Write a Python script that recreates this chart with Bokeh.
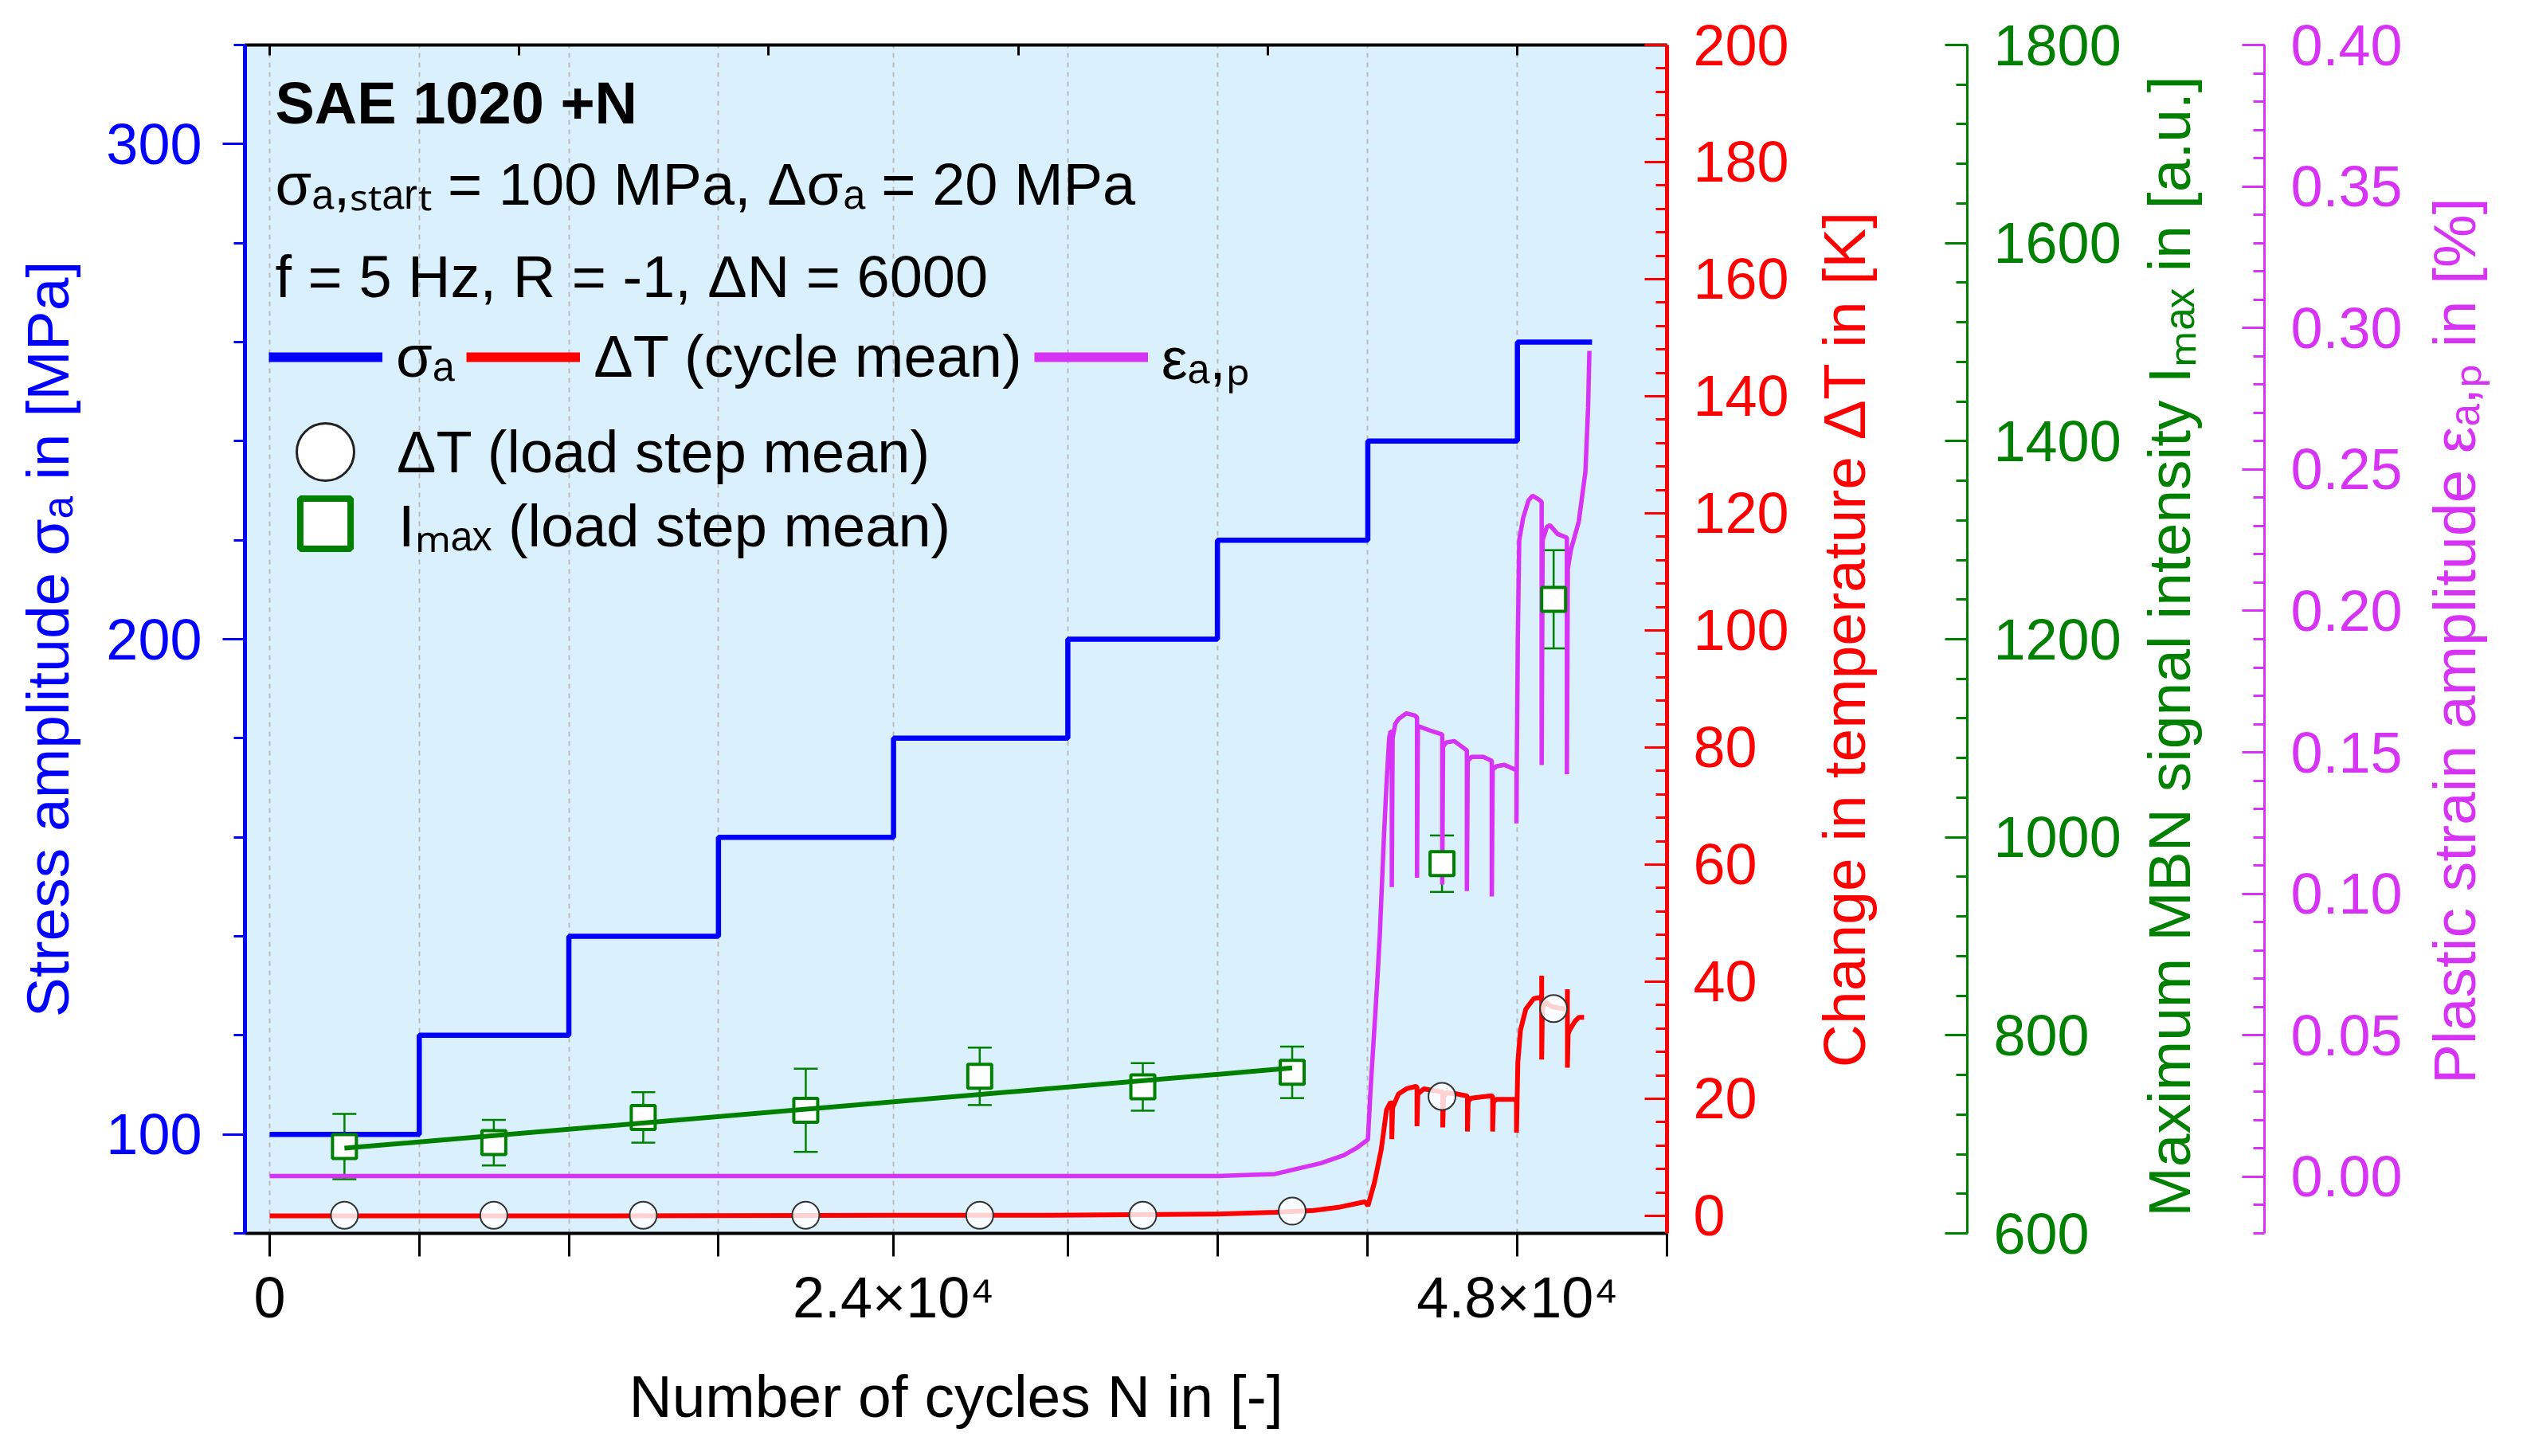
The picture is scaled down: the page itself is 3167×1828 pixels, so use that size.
import math
from bokeh.plotting import figure
from bokeh.models import (Range1d, LinearAxis, FixedTicker, SingleIntervalTicker, Legend, LegendItem,
                          Label, Whisker, ColumnDataSource, PrintfTickFormatter, TeeHead)
from bokeh.embed import file_html
from bokeh.resources import INLINE

# ---------------- data ----------------
step_start_N = [0, 5755, 11510, 17265, 24000, 30705, 36460, 42245, 48000]
step_end_N = 50872
sigma_a = [100, 120, 140, 160, 180, 200, 220, 240, 260]

x_major_N = [0, 24000, 48000]
x_major_text = {0: "0", 24000: "2.4×10⁴", 48000: "4.8×10⁴"}
x_minor_N = [5755, 11510, 17265, 30705, 36460, 42245, 53755]
grid_N = [0, 5755, 11510, 17265, 24000, 30705, 36460, 42245, 48000, 53755]
top_tick_N = [0, 9600, 19200, 28800, 38400, 48000]

mean_N = [2877, 8623, 14371, 20624, 27316, 33590, 39336, 45099, 49394]
dT_step_mean = [0.1, 0.1, 0.1, 0.1, 0.1, 0.1, 0.8, 20.4, 35.4]
Imax_mean = [687.6, 691.6, 717.1, 724.3, 758.6, 747.9, 762.6, 973.3, 1240.3]
Imax_err = [33, 23, 25.5, 42, 29, 24, 26, 28.5, 49.6]

fit_N = [2877, 39336]
fit_Imax = [686, 767]

dT_N = [0, 12000, 24000, 30000, 36460, 38700, 40159, 41178, 42148, 42250, 42507, 42761, 42966,
        43118, 43169, 43169, 43200, 43425, 43731, 44087, 44138, 44138, 44170, 44400, 44649,
        45057, 45128, 45128, 45160, 45262, 45700, 46027, 46078, 46078, 46110, 46230, 46600,
        46996, 47047, 47047, 47080, 47200, 47600, 47914, 47965, 47965, 47990, 48016, 48118,
        48322, 48628, 48883, 48934, 48934, 48934, 48960, 49037, 49343, 49853, 49924, 49924,
        49924, 49950, 50006, 50210, 50362, 50566]
dT_cycle = [0.0, 0.0, 0.1, 0.1, 0.3, 0.6, 0.9, 1.5, 2.4, 1.7, 5.8, 11.3, 18.1,
            19.4, 19.2, 13.1, 18.5, 20.8, 21.7, 22.1, 22.0, 15.3, 20.8, 21.7, 21.5,
            21.2, 21.1, 15.1, 20.3, 21.0, 20.8, 20.5, 20.4, 14.4, 19.6, 20.1, 20.3,
            20.5, 20.4, 14.4, 19.5, 19.9, 19.9, 19.9, 19.9, 14.2, 19.9, 26.2, 31.7,
            35.3, 37.1, 37.3, 37.3, 41.0, 26.7, 35.0, 36.6, 35.7, 35.3, 35.2, 38.7,
            25.3, 31.0, 31.7, 33.2, 33.9, 33.9]

eps_N = [0, 12000, 24000, 36453, 38684, 40441, 41323, 41849, 42198, 42250, 42352, 42608, 42711,
         42865, 42966, 43067, 43118, 43169, 43169, 43200, 43300, 43425, 43731, 44037, 44138,
         44138, 44170, 44200, 44650, 45108, 45108, 45140, 45260, 45570, 45850, 46056, 46056,
         46090, 46230, 46690, 47015, 47015, 47050, 47200, 47500, 47964, 47964, 47975, 48016,
         48070, 48220, 48424, 48577, 48800, 48934, 48934, 48970, 49138, 49250, 49546, 49903,
         49903, 49940, 50056, 50362, 50617, 50719, 50770]
eps_ap = [0.0003, 0.0003, 0.0003, 0.0003, 0.001, 0.0048, 0.0076, 0.0104, 0.0128, 0.0132, 0.031,
          0.0686, 0.0864, 0.120, 0.139, 0.155, 0.1573, 0.1573, 0.1024, 0.155, 0.160, 0.1618,
          0.1638, 0.1631, 0.1624, 0.1057, 0.158, 0.1592, 0.1577, 0.1563, 0.1033, 0.152, 0.1535,
          0.154, 0.1521, 0.1507, 0.101, 0.147, 0.1484, 0.1484, 0.147, 0.0991, 0.144, 0.1451,
          0.1456, 0.1437, 0.1249, 0.1437, 0.19, 0.225, 0.2328, 0.2390, 0.2407, 0.2395, 0.2385,
          0.1455, 0.225, 0.2297, 0.2303, 0.2272, 0.2259, 0.1423, 0.215, 0.2215, 0.2316, 0.2492,
          0.2718, 0.2919]

# ---------------- style ----------------
FONT = "Liberation Sans"
BLUE = "#0000FF"
RED = "#FF0000"
GREEN = "#008000"
MAG = "#D633F5"
BG = "#DAF0FC"
TICK_FS = "72px"
LABEL_FS = "75px"
TEXT_FS = "74px"
NBSP = "\u00a0"

W, H = 3167, 1820
FRAME_W, FRAME_H = 1786, 1492
p = figure(width=W, height=H, x_range=Range1d(-950, 53755), y_range=Range1d(80, 320),
           output_backend="svg", toolbar_location=None,
           min_border_left=307, min_border_right=W - 307 - FRAME_W,
           min_border_top=56, min_border_bottom=H - 56 - FRAME_H)
p.extra_y_ranges = {"dT": Range1d(-3, 200), "I": Range1d(600, 1800), "eps": Range1d(-0.02, 0.40)}
p.background_fill_color = BG
p.border_fill_color = "white"
p.outline_line_color = None

# grid
p.ygrid.visible = False
p.xgrid.ticker = FixedTicker(ticks=grid_N)
p.xgrid.grid_line_color = "#BBBBBB"
p.xgrid.grid_line_dash = "6 6"
p.xgrid.grid_line_width = 2


def style_axis(ax, color, tick_in, tick_out, minor_in, minor_out, line_w):
    ax.axis_line_color = color
    ax.axis_line_width = line_w
    ax.major_tick_line_color = color
    ax.minor_tick_line_color = color
    ax.major_tick_line_width = 3
    ax.minor_tick_line_width = 3
    ax.major_tick_in = tick_in
    ax.major_tick_out = tick_out
    ax.minor_tick_in = minor_in
    ax.minor_tick_out = minor_out
    ax.major_label_text_color = color
    ax.major_label_text_font = FONT
    ax.major_label_text_font_size = TICK_FS
    ax.axis_label_text_color = color
    ax.axis_label_text_font = FONT
    ax.axis_label_text_font_size = LABEL_FS
    ax.axis_label_text_font_style = "normal"


# bottom axis
xa = p.xaxis[0]
xa.ticker = FixedTicker(ticks=x_major_N, minor_ticks=x_minor_N)
xa.major_label_overrides = x_major_text
xa.axis_label = "Number of cycles N in [-]"
style_axis(xa, "black", 0, 29, 0, 29, 4)
xa.major_label_standoff = 11
xa.axis_label_standoff = 39

# top axis (ticks only)
ta = LinearAxis(ticker=FixedTicker(ticks=[], minor_ticks=top_tick_N))
style_axis(ta, "black", 0, 0, 13, 0, 4)
p.add_layout(ta, "above")

# left axis
ya = p.yaxis[0]
ya.ticker = SingleIntervalTicker(interval=100, num_minor_ticks=5)
ya.axis_label = "Stress amplitude σₐ in [MPa]"
style_axis(ya, BLUE, 0, 28, 0, 14, 5)
ya.major_label_standoff = 26
ya.axis_label_standoff = 28


# right axes: titles read upwards like the left one
def right_axis(rng, ticker, color, title, pad, lab_standoff, line_w):
    ax = LinearAxis(y_range_name=rng, ticker=ticker, axis_label=NBSP * pad + title)
    style_axis(ax, color, 28, 0, 14, 0, line_w)
    ax.major_label_standoff = 33
    ax.axis_label_orientation = math.pi / 2
    ax.axis_label_align = "start"
    ax.axis_label_standoff = lab_standoff
    return ax


def spacer(width):
    # an empty axis whose (white, off-frame) minor tick only reserves horizontal room
    s = LinearAxis(y_range_name="I", ticker=FixedTicker(ticks=[], minor_ticks=[1800]))
    s.axis_line_color = None
    s.major_tick_line_color = "white"
    s.minor_tick_line_color = "white"
    s.major_tick_in = 0
    s.major_tick_out = width
    s.minor_tick_in = 0
    s.minor_tick_out = width
    s.major_label_standoff = 0
    return s


ra = right_axis("dT", SingleIntervalTicker(interval=20, num_minor_ticks=5), RED,
                "Change in temperature ΔT in [K]", 10, 66, 5)
ga = right_axis("I", SingleIntervalTicker(interval=200, num_minor_ticks=5), GREEN,
                "Maximum MBN signal intensity Iₘₐₓ in [a.u.]", 1, 57, 3)
ma = right_axis("eps", SingleIntervalTicker(interval=0.05, num_minor_ticks=5), MAG,
                "Plastic strain amplitude εₐ,ₚ in [%]", 9, 62, 3)
ma.formatter = PrintfTickFormatter(format="%.2f")

p.add_layout(ra, "right")
p.add_layout(spacer(68), "right")
p.add_layout(ga, "right")
p.add_layout(spacer(33), "right")
p.add_layout(ma, "right")

# ---------------- marks ----------------
err_src = ColumnDataSource(dict(base=mean_N,
                                upper=[m + e for m, e in zip(Imax_mean, Imax_err)],
                                lower=[m - e for m, e in zip(Imax_mean, Imax_err)]))
wh = Whisker(base="base", upper="upper", lower="lower", source=err_src, y_range_name="I",
             line_color=GREEN, line_width=2.5, level="underlay",
             upper_head=TeeHead(size=30, line_color=GREEN, line_width=2.5),
             lower_head=TeeHead(size=30, line_color=GREEN, line_width=2.5))
p.add_layout(wh)

p.line(dT_N, dT_cycle, y_range_name="dT", line_color=RED, line_width=6)
p.line(eps_N, eps_ap, y_range_name="eps", line_color=MAG, line_width=5.5)

step_x, step_y = [], []
ends = step_start_N[1:] + [step_end_N]
for s0, s1, sv in zip(step_start_N, ends, sigma_a):
    step_x += [s0, s1]
    step_y += [sv, sv]
p.line(step_x, step_y, line_color=BLUE, line_width=6.5)

p.scatter(mean_N, Imax_mean, y_range_name="I", marker="square", size=30,
          fill_color="white", line_color=GREEN, line_width=4)
p.line(fit_N, fit_Imax, y_range_name="I", line_color=GREEN, line_width=6)
p.scatter(mean_N, dT_step_mean, y_range_name="dT", marker="circle", size=34,
          fill_color="white", fill_alpha=0.82, line_color="#333333", line_width=2)

# ---------------- legends (proxy renderers without visible data) ----------------
nan = [float("nan")]
lg_s = p.line(nan, nan, line_color=BLUE, line_width=12)
lg_t = p.line(nan, nan, line_color=RED, line_width=12)
lg_e = p.line(nan, nan, line_color=MAG, line_width=12)
lg_c = p.scatter(nan, nan, marker="circle", fill_color="white", line_color="#222222", line_width=3)
lg_q = p.scatter(nan, nan, marker="square", fill_color="white", line_color=GREEN, line_width=8)


def mk_legend(items, loc, gw, gh, standoff, orient="vertical", spacing=0):
    lg = Legend(items=items, location=loc, orientation=orient, glyph_width=gw, glyph_height=gh,
                label_height=gh, label_standoff=standoff, spacing=spacing, padding=0, margin=0,
                border_line_alpha=0, background_fill_alpha=0,
                label_text_font=FONT, label_text_font_size=TEXT_FS, label_text_color="black")
    p.add_layout(lg)
    return lg


mk_legend([LegendItem(label="σₐ", renderers=[lg_s]),
           LegendItem(label="ΔT (cycle mean)", renderers=[lg_t]),
           LegendItem(label="εₐ,ₚ", renderers=[lg_e])],
          (30, 1050), 143, 90, 17, orient="horizontal", spacing=15)
mk_legend([LegendItem(label="ΔT (load step mean)", renderers=[lg_c])], (11, 891), 180, 180, 0)
mk_legend([LegendItem(label="Iₘₐₓ (load step mean)", renderers=[lg_q])], (22, 812), 158, 158, 13)

# ---------------- text block ----------------
for txt, yy, style in [("SAE 1020 +N", 1419, "bold"),
                       ("σₐ,ₛₜₐᵣₜ = 100 MPa, Δσₐ = 20 MPa", 1317, "normal"),
                       ("f = 5 Hz, R = -1, ΔN = 6000", 1201, "normal")]:
    p.add_layout(Label(x=38, y=yy, x_units="screen", y_units="screen", text=txt,
                       text_font=FONT, text_font_size=TEXT_FS, text_font_style=style,
                       text_baseline="alphabetic", text_color="black"))

open("out.html", "w").write(file_html(p, INLINE))
